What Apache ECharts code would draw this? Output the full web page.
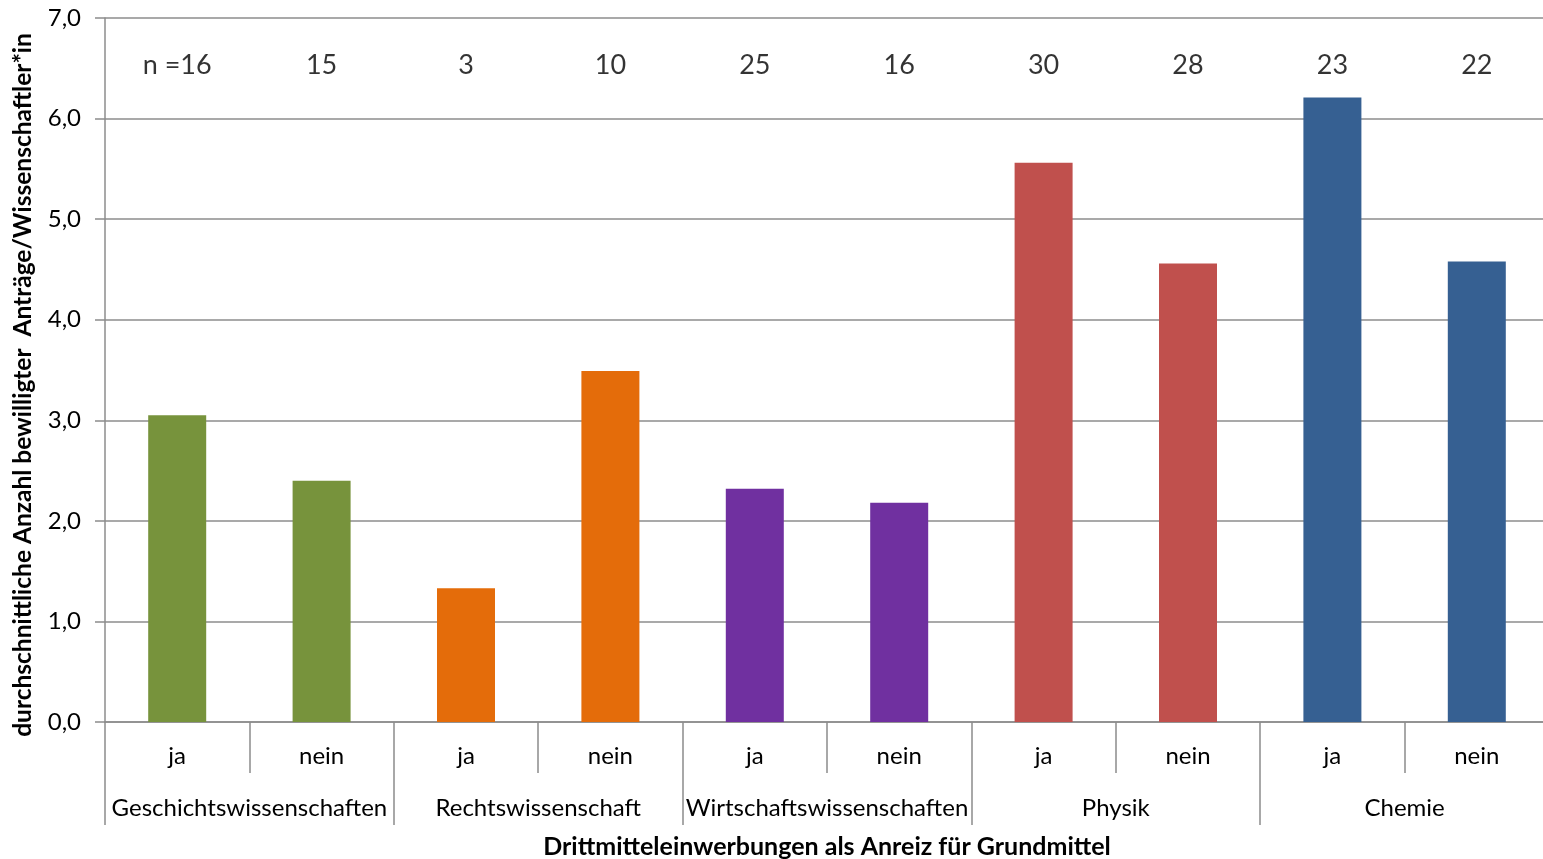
<!DOCTYPE html>
<html lang="de">

<head>
  <meta charset="UTF-8">
  <title>Anträge</title>
  <style>
    html, body { margin: 0; padding: 0; background: #fff; }
  </style>
</head>

<body>
  <div id="main" style="width: 1543px; height: 859px"></div>

  <script src="https://cdn.jsdelivr.net/npm/echarts@6/dist/echarts.min.js"></script>

  <script>
    // Daten
    var answers = ["ja", "nein", "ja", "nein", "ja", "nein", "ja", "nein", "ja", "nein"]
    var groups = ["Geschichtswissenschaften", "Rechtswissenschaft", "Wirtschaftswissenschaften", "Physik", "Chemie"]
    var values = [3.05, 2.40, 1.33, 3.49, 2.32, 2.18, 5.56, 4.56, 6.21, 4.58]
    var counts = [16, 15, 3, 10, 25, 16, 30, 28, 23, 22]
    var groupColors = ["#77933C", "#E46C0A", "#7030A0", "#C0504D", "#366092"]
    var yTitle = "durchschnittliche Anzahl bewilligter  Anträge/Wissenschaftler*in"

    var font = "Lato"
    var gray = "#8c8c8c"

    var myChart = echarts.init(document.getElementById('main'))

    var option = {
      textStyle: { fontFamily: font },
      grid: { left: 105, right: -6, top: 18, bottom: 137, outerBoundsMode: "none", containLabel: false },
      // y-Achsentitel etwas unter der Mitte, wie im Original
      graphic: [
        {
          type: "text",
          x: 23,
          y: 385,
          rotation: Math.PI / 2,
          style: {
            text: yTitle,
            fill: "#000",
            font: "bold 24.5px " + font,
            align: "center",
            verticalAlign: "middle"
          }
        }
      ],
      xAxis: [
        {
          type: "category",
          data: answers,
          axisLine: { lineStyle: { color: gray, width: 1.5 } },
          axisTick: { show: true, length: 51, interval: 0, lineStyle: { color: gray, width: 1.5 } },
          axisLabel: { color: "#000", fontSize: 24, margin: 22, interval: 0 }
        },
        {
          type: "category",
          data: groups,
          position: "bottom",
          axisLine: { show: false },
          axisTick: { show: true, length: 103, interval: 0, lineStyle: { color: gray, width: 1.5 } },
          axisLabel: { color: "#000", fontSize: 24, margin: 74, interval: 0 },
          name: "Drittmitteleinwerbungen als Anreiz für Grundmittel",
          nameLocation: "middle",
          nameGap: 125,
          nameTextStyle: { color: "#000", fontSize: 25, fontWeight: "bold", fontFamily: font, verticalAlign: "middle" }
        }
      ],
      yAxis: {
        type: "value",
        min: 0,
        max: 7,
        interval: 1,
        axisLine: { show: true, lineStyle: { color: gray, width: 1.5 } },
        axisTick: { show: true, length: 10, lineStyle: { color: gray, width: 1.5 } },
        axisLabel: {
          color: "#000",
          fontSize: 24,
          margin: 24,
          formatter: function (v) { return v.toFixed(1).replace(".", ",") }
        },
        splitLine: { lineStyle: { color: gray, width: 1.5 } }
      },
      series: [
        {
          type: "bar",
          xAxisIndex: 0,
          barWidth: 58,
          data: values.map(function (v, i) {
            return { value: v, itemStyle: { color: groupColors[Math.floor(i / 2)] } }
          })
        },
        {
          // n-Beschriftung oben
          type: "scatter",
          xAxisIndex: 0,
          symbolSize: 0,
          silent: true,
          data: counts.map(function (n, i) { return [i, 6.53] }),
          label: {
            show: true,
            position: "inside",
            color: "#000",
            fontSize: 27,
            formatter: function (p) {
              return (p.dataIndex === 0 ? "n =" : "") + counts[p.dataIndex]
            }
          }
        }
      ]
    }

    myChart.setOption(option)
  </script>
</body>

</html>
